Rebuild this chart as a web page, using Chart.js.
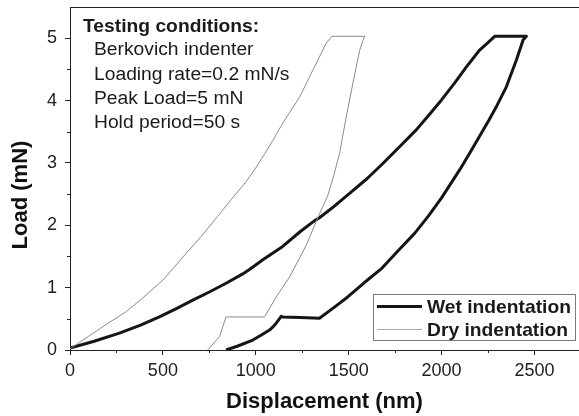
<!DOCTYPE html>
<html>
<head>
<meta charset="utf-8">
<script src="https://cdn.jsdelivr.net/npm/chart.js@4/dist/chart.umd.min.js"></script>
<style>
html,body{margin:0;padding:0;background:#fff;}
#wrap{width:579px;height:416px;position:relative;}
</style>
</head>
<body>
<div id="wrap"><canvas id="c" width="579" height="416"></canvas></div>
<script>
// ---- data ----
const wetX = [0,130,266,380,481,570,661,750,840,930,966,1040,1145,1240,1315,1343,1420,1505,1600,1684,1774,1864,1930,2000,2070,2134,2205,2250,2286,2457,
              2439,2403,2349,2300,2254,2160,2100,2000,1930,1855,1760,1675,1580,1495,1420,1343,1240,1145,1137,1110,1092,1074,1030,984,900,840];
const wetY = [0.03,0.14,0.27,0.40,0.53,0.66,0.80,0.93,1.07,1.22,1.29,1.45,1.66,1.90,2.07,2.12,2.30,2.51,2.75,2.99,3.26,3.53,3.76,4.01,4.28,4.54,4.81,4.93,5.03,5.03,
              4.97,4.65,4.22,3.93,3.68,3.20,2.90,2.44,2.15,1.87,1.57,1.30,1.07,0.85,0.68,0.51,0.52,0.53,0.54,0.43,0.37,0.32,0.24,0.16,0.06,0.0];
const dryX = [0,100,200,300,390,500,625,700,794,870,948,1000,1047,1092,1128,1180,1235,1306,1379,1410,1586,
              1575,1559,1523,1487,1451,1420,1388,1325,1272,1182,1110,1047,840,822,804,741];
const dryY = [0.02,0.22,0.42,0.61,0.83,1.12,1.55,1.80,2.14,2.42,2.70,2.92,3.14,3.36,3.55,3.80,4.05,4.48,4.92,5.03,5.03,
              4.95,4.80,4.28,3.74,3.15,2.80,2.48,2.06,1.68,1.17,0.85,0.53,0.53,0.37,0.21,0.0];
const xTicks = [0,500,1000,1500,2000,2500];
const yTicks = [0,1,2,3,4,5];
const xMinor = [250,750,1250,1750,2250];
const yMinor = [0.5,1.5,2.5,3.5,4.5];
const seriesNames = ['Wet indentation','Dry indentation'];
const xTitle = 'Displacement (nm)';
const yTitle = 'Load (mN)';
const noteTitle = 'Testing conditions:';
const noteLines = ['Berkovich indenter','Loading rate=0.2 mN/s','Peak Load=5 mN','Hold period=50 s'];

const FF = "'Liberation Sans', Arial, Helvetica, sans-serif";
const WET_COLOR = '#151515';
const DRY_COLOR = '#8a8a8a';

const overlay = {
  id: 'overlay',
  afterDraw(chart) {
    const ctx = chart.ctx;
    const a = chart.chartArea;
    const xs = chart.scales.x, ys = chart.scales.y;
    ctx.save();
    ctx.strokeStyle = '#222';
    ctx.lineWidth = 1;
    // top border
    ctx.beginPath();
    ctx.moveTo(a.left, a.top + 0.5);
    ctx.lineTo(a.right, a.top + 0.5);
    ctx.stroke();
    // minor ticks
    ctx.beginPath();
    xMinor.forEach(v => {
      const px = Math.round(xs.getPixelForValue(v)) + 0.5;
      ctx.moveTo(px, a.bottom); ctx.lineTo(px, a.bottom + 3);
    });
    yMinor.forEach(v => {
      const py = Math.round(ys.getPixelForValue(v)) + 0.5;
      ctx.moveTo(a.left, py); ctx.lineTo(a.left - 3, py);
    });
    ctx.stroke();

    // y axis title
    ctx.fillStyle = '#111';
    ctx.font = 'bold 22px ' + FF;
    ctx.textAlign = 'center';
    ctx.textBaseline = 'middle';
    ctx.save();
    ctx.translate(21, 195);
    ctx.rotate(-Math.PI / 2);
    ctx.fillText(yTitle, 0, 0);
    ctx.restore();

    // annotation
    ctx.textAlign = 'left';
    ctx.textBaseline = 'alphabetic';
    function txt(s, x, y, font, sx) {
      ctx.save();
      ctx.translate(x, y);
      ctx.scale(sx, 1);
      ctx.font = font;
      ctx.fillText(s, 0, 0);
      ctx.restore();
    }
    ctx.fillStyle = '#1a1a1a';
    txt(noteTitle, 83, 32, 'bold 18px ' + FF, 1.07);
    const base = [55, 80, 104, 128];
    noteLines.forEach((s, i) => txt(s, 94, base[i], '18px ' + FF, 1.07));

    // legend
    ctx.strokeStyle = '#7a7a7a';
    ctx.lineWidth = 1;
    ctx.strokeRect(373.5, 294.5, 202, 46);
    ctx.strokeStyle = WET_COLOR;
    ctx.lineWidth = 3;
    ctx.beginPath(); ctx.moveTo(377, 306.5); ctx.lineTo(422, 306.5); ctx.stroke();
    ctx.strokeStyle = '#a8a8a8';
    ctx.lineWidth = 1;
    ctx.beginPath(); ctx.moveTo(377, 329.5); ctx.lineTo(422, 329.5); ctx.stroke();
    ctx.fillStyle = '#1a1a1a';
    txt(seriesNames[0], 427, 313, 'bold 18.5px ' + FF, 1.04);
    txt(seriesNames[1], 427, 336, 'bold 18.5px ' + FF, 1.04);
    ctx.restore();
  }
};

new Chart(document.getElementById('c'), {
  type: 'scatter',
  data: {
    datasets: [
      {
        label: seriesNames[1],
        data: dryX.map((x, i) => ({x: x, y: dryY[i]})),
        showLine: true, borderColor: DRY_COLOR, borderWidth: 1,
        pointRadius: 0, tension: 0, fill: false
      },
      {
        label: seriesNames[0],
        data: wetX.map((x, i) => ({x: x, y: wetY[i]})),
        showLine: true, borderColor: WET_COLOR, borderWidth: 3,
        pointRadius: 0, tension: 0, fill: false, borderJoinStyle: 'round'
      }
    ]
  },
  options: {
    responsive: false,
    animation: false,
    layout: { padding: { top: 7, left: 0, right: 0, bottom: 0 } },
    plugins: { legend: { display: false }, tooltip: { enabled: false } },
    scales: {
      x: {
        type: 'linear', min: 0, max: 2740,
        afterBuildTicks: s => { s.ticks = xTicks.map(v => ({ value: v })); },
        afterFit: s => { s.height = 66; s.paddingLeft = 0; s.paddingRight = 0; },
        ticks: { font: { family: FF, size: 18 }, color: '#222', padding: 5, maxRotation: 0, autoSkip: false,
                 callback: v => String(v) },
        grid: { drawOnChartArea: false, drawTicks: true, tickLength: 5, color: '#222' },
        border: { display: true, color: '#222', width: 1 },
        title: { display: true, text: xTitle, color: '#111', font: { family: FF, size: 22, weight: 'bold' }, padding: { top: 0, bottom: 1 } }
      },
      y: {
        type: 'linear', min: 0, max: 5.5,
        afterBuildTicks: s => { s.ticks = yTicks.map(v => ({ value: v })); },
        afterFit: s => { s.width = 70; s.paddingTop = 0; s.paddingBottom = 0; },
        ticks: { font: { family: FF, size: 18 }, color: '#222', padding: 8, callback: v => String(v) },
        grid: { drawOnChartArea: false, drawTicks: true, tickLength: 5, color: '#222' },
        border: { display: true, color: '#222', width: 1 },
        title: { display: false }
      }
    }
  },
  plugins: [overlay]
});
</script>
</body>
</html>
